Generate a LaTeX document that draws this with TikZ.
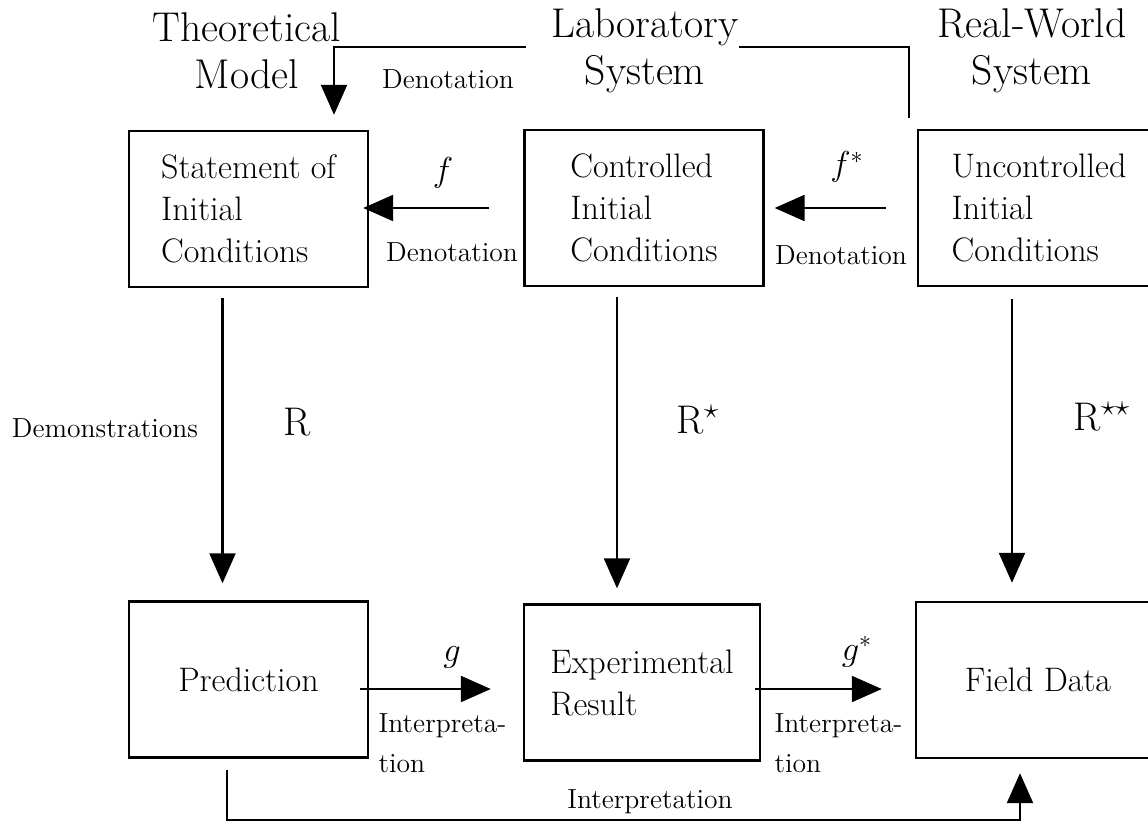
\documentclass[tikz,border=0pt]{standalone}
\usepackage{tikz}
\usetikzlibrary{arrows.meta}

\begin{document}
\begin{tikzpicture}[x=0.5pt, y=-0.5pt,
    box/.style={draw, line width=1.2pt, align=left, inner sep=0pt,
      minimum width=119.5pt, minimum height=78pt, font=\fontsize{17}{21}\selectfont},
    head/.style={align=center, inner sep=0pt, font=\fontsize{20.8}{23.5}\selectfont},
    lbl/.style={font=\fontsize{13.8}{20}\selectfont},
    sym/.style={font=\fontsize{20}{24}\selectfont},
    fn/.style={font=\fontsize{18}{20}\selectfont},
    arr/.style={line width=1.1pt, -{Triangle[width=13pt, length=15pt]}}]
    \useasboundingbox (0,0) rectangle (1148,825);
      \node[head] (theo) at (247,51) {Theoretical\\Model};
      \node[head] (lab) at (645,51) {Laboratory\\System};
      \node[head] (real) at (1032,51) {Real-World\\System};
      \node[box] (stmt) at (248.5,209) {Statement of\\Initial\\Conditions};
      \node[box] (ctrl) at (644,208) {Controlled\\Initial\\Conditions};
      \node[box, minimum width=121pt] (unctrl) at (1039,208) {Uncontrolled\\Initial\\Conditions};
      \node[box] (pred) at (248.5,679.5) {Prediction};
      \node[box, minimum width=118pt] (expt) at (642,682.5) {Experimental\\Result};
      \node[box, minimum width=122pt] (field) at (1038,680) {Field Data};
      \coordinate (lower) at (0,820);
      \coordinate (rend) at ([xshift=-4pt, yshift=5.5pt]unctrl.north west);

      \node[lbl] (den1) at (448,79) {Denotation};
      \node[lbl] (den2) at (452,252) {Denotation};
      \node[lbl] (den3) at (841,255) {Denotation};
      \node[fn] (f1) at (443,173) {$f$};
      \node[fn] (f2) at (847,167) {$f^{*}$};
      \node[lbl] (demo) at (105,428) {Demonstrations};
      \node[sym] (r1) at (297,422) {R};
      \node[sym] (r2) at (698,420) {R$^\star$};
      \node[sym] (r3) at (1102,417) {R$^{\star\star}$};
      \node[fn] (g1) at (452,657) {$g$};
      \node[fn] (g2) at (857,652) {$g^{*}$};
      \node[lbl, align=left] (int1) at (442.5,743) {Interpreta-\\tion};
      \node[lbl, align=left] (int2) at (838.5,743) {Interpreta-\\tion};
      \node[lbl] (int3) at (650,802) {Interpretation};

      \draw[arr, shorten >=7.5pt] ([xshift=-12.75pt, yshift=2pt]lab.west) -| ([xshift=42.75pt]stmt.north);
      \draw[line width=1.1pt] ([yshift=2pt]lab.east) -| (rend);
      \draw[arr, shorten <=17pt, shorten >=-3pt] (ctrl.west) -- (ctrl.west -| stmt.east);
      \draw[arr, shorten <=15.5pt, shorten >=5pt] (unctrl.west) -- (unctrl.west -| ctrl.east);
      \draw[arr, shorten <=5pt, shorten >=8.5pt] ([xshift=-13pt]stmt.south) -- ([xshift=-13pt]pred.north);
      \draw[arr, shorten <=5pt, shorten >=7.5pt] ([xshift=-13.5pt]ctrl.south) -- ([xshift=-12.5pt]expt.north);
      \draw[arr, shorten <=6pt, shorten >=9pt] ([xshift=-13.5pt]unctrl.south) -- ([xshift=-13pt]field.north);
      \draw[arr, shorten <=-4.5pt, shorten >=16pt] ([yshift=-4.75pt]pred.east) -- ([yshift=-4.75pt]pred.east -| expt.west);
      \draw[arr, shorten <=-3pt, shorten >=16.5pt] ([yshift=-3.25pt]expt.east) -- ([yshift=-3.25pt]expt.east -| field.west);
      \draw[arr, shorten <=5.5pt, shorten >=7pt] ([xshift=-10.75pt]pred.south) -- ([xshift=-10.75pt]pred.south |- lower) -| ([xshift=-9pt]field.south);
\end{tikzpicture}
\end{document}
